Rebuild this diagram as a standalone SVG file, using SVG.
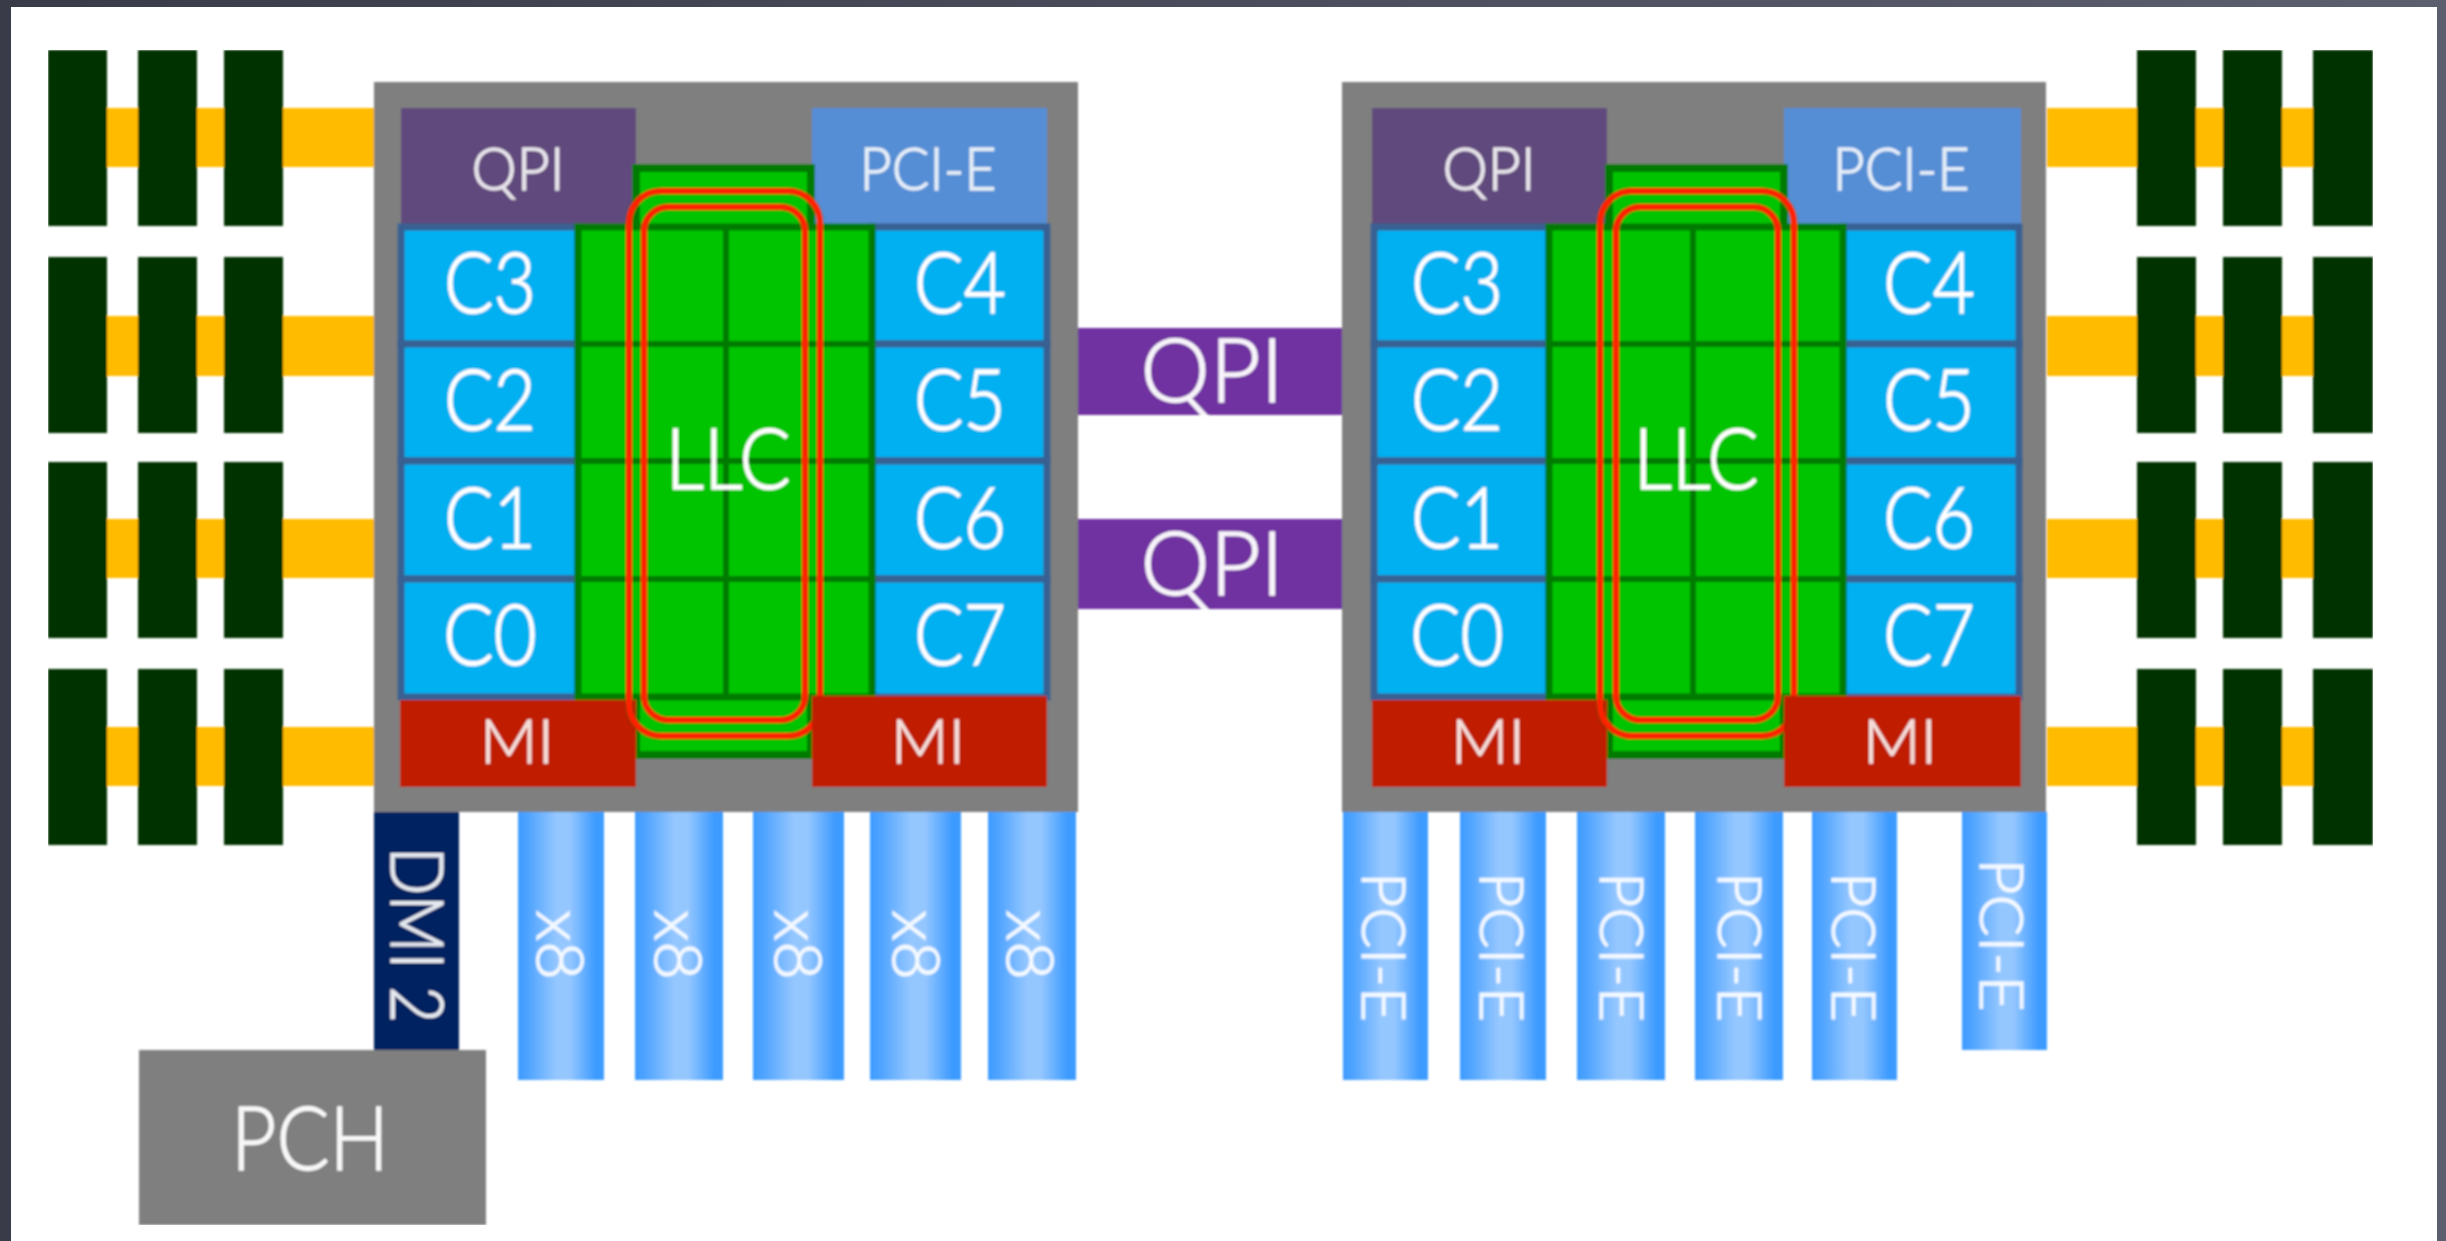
<svg xmlns="http://www.w3.org/2000/svg" width="2446" height="1241" viewBox="0 0 2446 1241">
<style>
text{font-family:"Lato","Open Sans","Liberation Sans",sans-serif;fill:#fff;stroke:#fff;stroke-width:1.3;text-anchor:middle;font-weight:300}
.dimm{fill:#033000}
.ddr{fill:#ffbb00}
.chip{fill:#7f7f7f}
.qpiBox{fill:#604a7b}
.pciBox{fill:#558ed5}
.core{fill:#00b0f0;stroke:#376092;stroke-width:7}
.grid{fill:#00c400;stroke:#007a00;stroke-width:7}
.tower{fill:#00c400;stroke:#007a00;stroke-width:8}
.gl{stroke:#007a00;stroke-width:6;fill:none}
.mi{fill:#bf1a00}
.halo{fill:none;stroke:#0a7000;stroke-width:8;opacity:.4}
.red{fill:none;stroke:#ff2000;stroke-width:6}
.qlink{fill:#7030a0}
.dmi{fill:#002060}
.lane{fill:url(#lane)}
.s{font-size:60px;opacity:.85}
.c{font-size:84px}
.m{font-size:62px;opacity:.85}
.big{font-size:88px;opacity:.95}
.v{font-size:62px;opacity:.9}
.x{font-size:66px;opacity:.9}
.d{font-size:72px;opacity:.9}
</style>
<defs>
<linearGradient id="bg" x1="0" x2="1" y1="0" y2="0"><stop offset="0" stop-color="#393b49"/><stop offset="1" stop-color="#5c5f6d"/></linearGradient>
<linearGradient id="lane" x1="0" x2="1" y1="0" y2="0"><stop offset="0" stop-color="#3d9bff"/><stop offset=".12" stop-color="#4fa4ff"/><stop offset=".45" stop-color="#95c7ff"/><stop offset=".6" stop-color="#95c7ff"/><stop offset=".9" stop-color="#3d9bff"/><stop offset="1" stop-color="#3d9bff"/></linearGradient>
<filter id="soft" x="0" y="0" width="100%" height="100%"><feGaussianBlur stdDeviation="0.9"/></filter>
</defs>
<rect width="2446" height="1241" fill="url(#bg)"/>
<rect x="11" y="7" width="2426" height="1234" fill="#fff"/>
<g filter="url(#soft)">
<g id="connectors">
<rect class="ddr" x="107" y="108" width="267" height="59"/>
<rect class="ddr" x="107" y="316" width="267" height="60"/>
<rect class="ddr" x="107" y="519" width="267" height="59"/>
<rect class="ddr" x="107" y="727" width="267" height="59"/>
<rect class="ddr" x="2047" y="108" width="270" height="59"/>
<rect class="ddr" x="2047" y="316" width="270" height="60"/>
<rect class="ddr" x="2047" y="519" width="270" height="59"/>
<rect class="ddr" x="2047" y="727" width="270" height="59"/>
<rect class="qlink" x="1078" y="328" width="264" height="87"/>
<text class="big" x="1212" y="402" textLength="143" lengthAdjust="spacingAndGlyphs">QPI</text>
<rect class="qlink" x="1078" y="519" width="264" height="90"/>
<text class="big" x="1212" y="595" textLength="143" lengthAdjust="spacingAndGlyphs">QPI</text>
<rect class="dmi" x="374" y="812" width="85" height="240"/>
<text class="d" transform="translate(391 935) rotate(90)" textLength="176" lengthAdjust="spacingAndGlyphs">DMI 2</text>
<rect class="lane" x="518" y="812" width="86" height="268"/><text class="x" transform="translate(537 945) rotate(90)" textLength="70" lengthAdjust="spacingAndGlyphs">x8</text>
<rect class="lane" x="635" y="812" width="88" height="268"/><text class="x" transform="translate(655 945) rotate(90)" textLength="70" lengthAdjust="spacingAndGlyphs">x8</text>
<rect class="lane" x="753" y="812" width="91" height="268"/><text class="x" transform="translate(775 945) rotate(90)" textLength="70" lengthAdjust="spacingAndGlyphs">x8</text>
<rect class="lane" x="870" y="812" width="91" height="268"/><text class="x" transform="translate(893 945) rotate(90)" textLength="70" lengthAdjust="spacingAndGlyphs">x8</text>
<rect class="lane" x="988" y="812" width="88" height="268"/><text class="x" transform="translate(1007 945) rotate(90)" textLength="70" lengthAdjust="spacingAndGlyphs">x8</text>
<rect class="lane" x="1343" y="812" width="85" height="268"/><text class="v" transform="translate(1362 947) rotate(90)" textLength="150" lengthAdjust="spacingAndGlyphs">PCI-E</text>
<rect class="lane" x="1460" y="812" width="86" height="268"/><text class="v" transform="translate(1480 947) rotate(90)" textLength="150" lengthAdjust="spacingAndGlyphs">PCI-E</text>
<rect class="lane" x="1577" y="812" width="88" height="268"/><text class="v" transform="translate(1600 947) rotate(90)" textLength="150" lengthAdjust="spacingAndGlyphs">PCI-E</text>
<rect class="lane" x="1695" y="812" width="88" height="268"/><text class="v" transform="translate(1718 947) rotate(90)" textLength="150" lengthAdjust="spacingAndGlyphs">PCI-E</text>
<rect class="lane" x="1812" y="812" width="85" height="268"/><text class="v" transform="translate(1832 947) rotate(90)" textLength="150" lengthAdjust="spacingAndGlyphs">PCI-E</text>
<rect class="lane" x="1962" y="812" width="85" height="238"/><text class="v" transform="translate(1980 935) rotate(90)" textLength="153" lengthAdjust="spacingAndGlyphs">PCI-E</text>
</g>
<g id="dimms-left">
<rect class="dimm" x="48" y="50" width="59" height="176"/><rect class="dimm" x="138" y="50" width="59" height="176"/><rect class="dimm" x="224" y="50" width="59" height="176"/>
<rect class="dimm" x="48" y="257" width="59" height="176"/><rect class="dimm" x="138" y="257" width="59" height="176"/><rect class="dimm" x="224" y="257" width="59" height="176"/>
<rect class="dimm" x="48" y="462" width="59" height="176"/><rect class="dimm" x="138" y="462" width="59" height="176"/><rect class="dimm" x="224" y="462" width="59" height="176"/>
<rect class="dimm" x="48" y="669" width="59" height="176"/><rect class="dimm" x="138" y="669" width="59" height="176"/><rect class="dimm" x="224" y="669" width="59" height="176"/>
</g>
<g id="dimms-right">
<rect class="dimm" x="2137" y="50" width="59" height="176"/><rect class="dimm" x="2223" y="50" width="59" height="176"/><rect class="dimm" x="2313" y="50" width="60" height="176"/>
<rect class="dimm" x="2137" y="257" width="59" height="176"/><rect class="dimm" x="2223" y="257" width="59" height="176"/><rect class="dimm" x="2313" y="257" width="60" height="176"/>
<rect class="dimm" x="2137" y="462" width="59" height="176"/><rect class="dimm" x="2223" y="462" width="59" height="176"/><rect class="dimm" x="2313" y="462" width="60" height="176"/>
<rect class="dimm" x="2137" y="669" width="59" height="176"/><rect class="dimm" x="2223" y="669" width="59" height="176"/><rect class="dimm" x="2313" y="669" width="60" height="176"/>
</g>
<g id="pch"><rect class="chip" x="139" y="1050" width="347" height="175"/><text class="big" x="310" y="1170" textLength="158" lengthAdjust="spacingAndGlyphs">PCH</text></g>
<g id="cpu-left">
<rect class="chip" x="374" y="82" width="704" height="730"/>
<rect class="qpiBox" x="401" y="108" width="235" height="119"/>
<rect class="pciBox" x="812" y="108" width="235" height="119"/>
<text class="s" x="518" y="190" textLength="93" lengthAdjust="spacingAndGlyphs">QPI</text>
<text class="s" x="928" y="190" textLength="137" lengthAdjust="spacingAndGlyphs">PCI-E</text>
<rect class="tower" x="636" y="168" width="175" height="587"/>
<rect class="core" x="401" y="227" width="177" height="117"/><rect class="core" x="401" y="344" width="177" height="117"/><rect class="core" x="401" y="461" width="177" height="118"/><rect class="core" x="401" y="579" width="177" height="118"/>
<rect class="core" x="872" y="227" width="175" height="117"/><rect class="core" x="872" y="344" width="175" height="117"/><rect class="core" x="872" y="461" width="175" height="118"/><rect class="core" x="872" y="579" width="175" height="118"/>
<rect class="grid" x="578" y="227" width="294" height="470"/>
<path class="gl" d="M726 227V697M578 344H872M578 461H872M578 579H872"/>
<text class="c" x="490" y="313" textLength="92" lengthAdjust="spacingAndGlyphs">C3</text><text class="c" x="490" y="430" textLength="92" lengthAdjust="spacingAndGlyphs">C2</text><text class="c" x="490" y="548" textLength="92" lengthAdjust="spacingAndGlyphs">C1</text><text class="c" x="490" y="665" textLength="94" lengthAdjust="spacingAndGlyphs">C0</text>
<text class="c" x="960" y="313" textLength="92" lengthAdjust="spacingAndGlyphs">C4</text><text class="c" x="960" y="430" textLength="92" lengthAdjust="spacingAndGlyphs">C5</text><text class="c" x="960" y="548" textLength="92" lengthAdjust="spacingAndGlyphs">C6</text><text class="c" x="960" y="665" textLength="92" lengthAdjust="spacingAndGlyphs">C7</text>
<text class="c" x="728" y="489" textLength="125" lengthAdjust="spacingAndGlyphs">LLC</text>
<rect class="mi" x="400" y="700" width="236" height="87"/>
<rect class="halo" x="644" y="207" width="161" height="513" rx="24"/><rect class="halo" x="629" y="191" width="191" height="545" rx="32"/>
<rect class="red" x="644" y="207" width="161" height="513" rx="24"/><rect class="red" x="629" y="191" width="191" height="545" rx="32"/>
<rect class="mi" x="812" y="696" width="235" height="91"/>
<text class="m" x="517" y="763" textLength="74" lengthAdjust="spacingAndGlyphs">MI</text><text class="m" x="928" y="763" textLength="74" lengthAdjust="spacingAndGlyphs">MI</text>
</g>
<g id="cpu-right">
<rect class="chip" x="1342" y="82" width="704" height="730"/>
<rect class="qpiBox" x="1372" y="108" width="235" height="119"/>
<rect class="pciBox" x="1784" y="108" width="237" height="119"/>
<text class="s" x="1489" y="190" textLength="93" lengthAdjust="spacingAndGlyphs">QPI</text>
<text class="s" x="1901" y="190" textLength="137" lengthAdjust="spacingAndGlyphs">PCI-E</text>
<rect class="tower" x="1609" y="168" width="175" height="587"/>
<rect class="core" x="1374" y="227" width="175" height="117"/><rect class="core" x="1374" y="344" width="175" height="117"/><rect class="core" x="1374" y="461" width="175" height="118"/><rect class="core" x="1374" y="579" width="175" height="118"/>
<rect class="core" x="1843" y="227" width="176" height="117"/><rect class="core" x="1843" y="344" width="176" height="117"/><rect class="core" x="1843" y="461" width="176" height="118"/><rect class="core" x="1843" y="579" width="176" height="118"/>
<rect class="grid" x="1549" y="227" width="294" height="470"/>
<path class="gl" d="M1693 227V697M1549 344H1843M1549 461H1843M1549 579H1843"/>
<text class="c" x="1457" y="313" textLength="92" lengthAdjust="spacingAndGlyphs">C3</text><text class="c" x="1457" y="430" textLength="92" lengthAdjust="spacingAndGlyphs">C2</text><text class="c" x="1457" y="548" textLength="92" lengthAdjust="spacingAndGlyphs">C1</text><text class="c" x="1457" y="665" textLength="94" lengthAdjust="spacingAndGlyphs">C0</text>
<text class="c" x="1929" y="313" textLength="92" lengthAdjust="spacingAndGlyphs">C4</text><text class="c" x="1929" y="430" textLength="92" lengthAdjust="spacingAndGlyphs">C5</text><text class="c" x="1929" y="548" textLength="92" lengthAdjust="spacingAndGlyphs">C6</text><text class="c" x="1929" y="665" textLength="92" lengthAdjust="spacingAndGlyphs">C7</text>
<text class="c" x="1696" y="489" textLength="125" lengthAdjust="spacingAndGlyphs">LLC</text>
<rect class="mi" x="1372" y="700" width="235" height="87"/>
<rect class="halo" x="1616" y="207" width="162" height="513" rx="24"/><rect class="halo" x="1600" y="191" width="194" height="545" rx="32"/>
<rect class="red" x="1616" y="207" width="162" height="513" rx="24"/><rect class="red" x="1600" y="191" width="194" height="545" rx="32"/>
<rect class="mi" x="1784" y="696" width="237" height="91"/>
<text class="m" x="1488" y="763" textLength="74" lengthAdjust="spacingAndGlyphs">MI</text><text class="m" x="1900" y="763" textLength="74" lengthAdjust="spacingAndGlyphs">MI</text>
</g>
</g>
</svg>
